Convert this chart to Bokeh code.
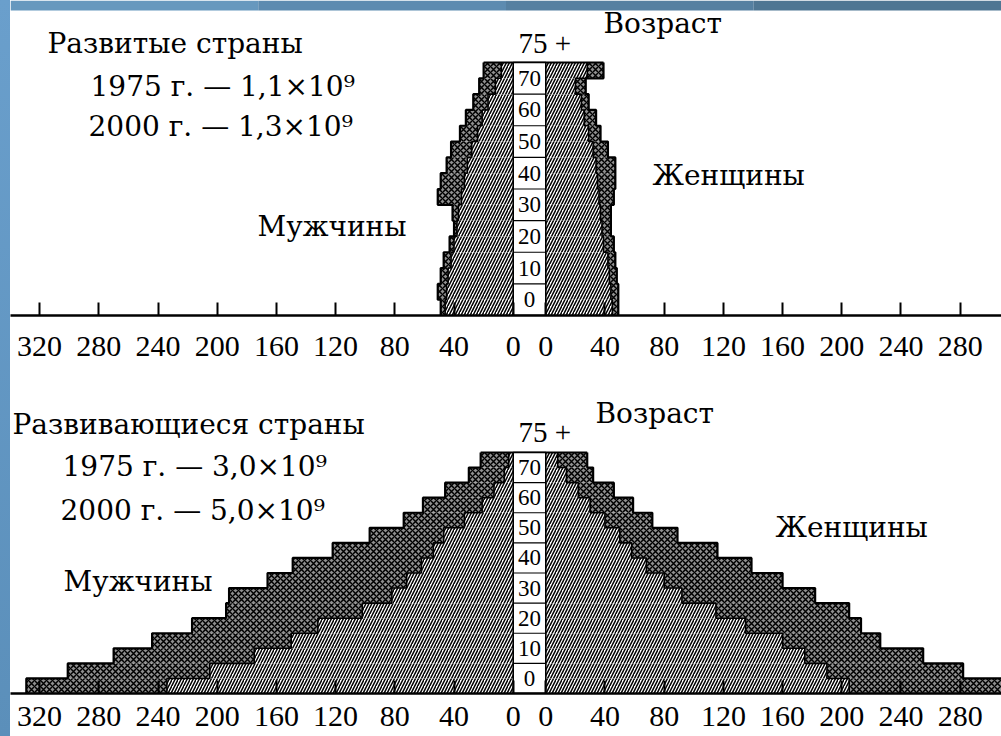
from bokeh.plotting import figure
from bokeh.layouts import column, row
from bokeh.models import Range1d, FixedTicker, CustomJSTickFormatter, Label, ColumnDataSource, BoxAnnotation, Div
from bokeh.embed import file_html
from bokeh.resources import INLINE
from bokeh.core.properties import value

# ---------------- data ----------------
age_start = [0, 5, 10, 15, 20, 25, 30, 35, 40, 45, 50, 55, 60, 65, 70, 75]
age_groups = ["0-4", "5-9", "10-14", "15-19", "20-24", "25-29", "30-34", "35-39",
              "40-44", "45-49", "50-54", "55-59", "60-64", "65-69", "70-74", "75+"]
decades = [0, 10, 20, 30, 40, 50, 60, 70]
left_ticks = [0, 40, 80, 120, 160, 200, 240, 280, 320]
right_ticks = [0, 40, 80, 120, 160, 200, 240, 280]

# developed countries (millions)
dev_men_1975 = [46, 45, 44, 42, 40, 38, 37, 35, 33, 31, 28, 24, 21, 17, 12, 8]
dev_men_2000 = [49, 51, 49, 47, 43, 40, 41, 51, 49, 45, 42, 36, 32, 27, 23, 20]
dev_women_1975 = [45, 44, 43, 42, 39, 38, 37, 36, 35, 34, 32, 29, 26, 24, 20, 28]
dev_women_2000 = [49, 49, 48, 47, 46, 44, 44, 46, 47, 47, 42, 37, 34, 29, 27, 39]

# developing countries (millions)
dvg_men_1975 = [234, 205, 175, 150, 132, 102, 82, 72, 62, 54, 47, 33, 21, 13, 6, 3]
dvg_men_2000 = [329, 301, 270, 244, 217, 194, 192, 166, 149, 122, 97, 74, 61, 46, 30, 22]
dvg_women_1975 = [205, 190, 175, 160, 135, 115, 92, 80, 68, 58, 50, 40, 30, 22, 14, 8]
dvg_women_2000 = [312, 282, 255, 226, 213, 205, 182, 160, 139, 116, 89, 72, 59, 46, 32, 28]

# ---------------- layout constants ----------------
G = 11            # half width of the central age column, in data units
PX = 1.48         # pixels per data unit (horizontal)
PAGE_W = 1001
LB = 10           # width of the blue band on the left
W = PAGE_W - LB
CX = 529          # page x of the centre
X_START = -(CX - LB) / PX
X_END = (PAGE_W - CX) / PX
SERIF = "DejaVu Serif"
NUM = "Liberation Serif"
STEP = 5
TOP_BAND_COLORS = ["#6798be", "#5d8bb0", "#5680a1", "#4f7693"]


def staircase(vals, sign):
    xs, ys = [], []
    for a, v in zip(age_start, vals):
        x = sign * (G + v)
        xs += [x, x]
        ys += [a, a + STEP]
    return xs, ys


def make(men75, men00, wom75, wom00, height, canvas_top, frame_bottom, standoff, texts, top_band):
    frame_h = frame_bottom - canvas_top
    ypx = (frame_bottom - texts["bar_top"]) / (age_start[-1] + STEP)
    y_end = frame_h / ypx

    p = figure(width=W, height=height, output_backend="svg", toolbar_location=None,
               x_range=Range1d(X_START, X_END), y_range=Range1d(0, y_end),
               y_axis_location=None, min_border_left=0, min_border_right=0,
               min_border_top=0, min_border_bottom=height - frame_h,
               outline_line_color=None, background_fill_color="white",
               border_fill_color="white")
    p.xgrid.visible = False
    p.ygrid.visible = False

    def tx(px):
        return (px - CX) / PX

    def ty(py):
        return (frame_bottom - py) / ypx

    yc = [a + STEP / 2 for a in age_start]
    src = ColumnDataSource(dict(
        y=yc,
        m_out=[-(G + v) for v in men00], m_in=[-(G + v) for v in men75], m0=[-G] * len(yc),
        w_out=[G + v for v in wom00], w_in=[G + v for v in wom75], w0=[G] * len(yc),
    ))
    cross = dict(fill_color="#8f8f8f", hatch_pattern="x", hatch_color="black",
                 hatch_scale=6, hatch_weight=1.5, line_color=None)
    diag = dict(fill_color="white", hatch_pattern="/", hatch_color="black",
                hatch_scale=6, hatch_weight=1.5, line_color=None)
    p.hbar(y="y", height=STEP, left="m_out", right="m_in", source=src, **cross)
    p.hbar(y="y", height=STEP, left="w_in", right="w_out", source=src, **cross)
    p.hbar(y="y", height=STEP, left="m_in", right="m0", source=src, **diag)
    p.hbar(y="y", height=STEP, left="w0", right="w_in", source=src, **diag)

    # outlines (staircases) of the 2000 and 1975 profiles
    top_age = age_start[-1] + STEP
    for vals, sign, lw in ((men00, -1, 2.2), (wom00, 1, 2.2), (men75, -1, 1.6), (wom75, 1, 1.6)):
        xs, ys = staircase(vals, sign)
        p.line(xs, ys, line_color="black", line_width=lw)
    p.line([-(G + men00[-1]), G + wom00[-1]], [top_age, top_age], line_color="black", line_width=2.2)

    # central age column
    p.quad(left=[-G], right=[G], bottom=[0], top=[top_age],
           fill_color="white", line_color="black", line_width=1.6)
    p.segment(x0=[-G] * (len(decades) - 1), x1=[G] * (len(decades) - 1),
              y0=decades[1:], y1=decades[1:], line_color="black", line_width=1.2)
    p.text(x=[0] * len(decades), y=[d + 5 for d in decades], text=[str(d) for d in decades],
           text_font=value(NUM), text_font_size="23px", text_align="center",
           text_baseline="middle", text_color="black")

    # axis
    ax = p.xaxis[0]
    ax.ticker = FixedTicker(ticks=[-(G + t) for t in left_ticks] + [G + t for t in right_ticks])
    ax.formatter = CustomJSTickFormatter(args=dict(g=G),
                                         code="return String(Math.round(Math.abs(Math.abs(tick) - g)));")
    ax.major_label_text_font = NUM
    ax.major_label_text_font_size = "30px"
    ax.major_label_text_color = "black"
    ax.major_label_standoff = standoff
    ax.major_tick_in = 13
    ax.major_tick_out = 0
    ax.minor_tick_in = 0
    ax.minor_tick_out = 0
    ax.major_tick_line_width = 2
    ax.major_tick_line_color = "black"
    ax.axis_line_width = 2.5
    ax.axis_line_color = "black"

    # blue slide background visible along the top edge
    if top_band:
        n = len(TOP_BAND_COLORS)
        for i, c in enumerate(TOP_BAND_COLORS):
            x0 = tx(LB + (PAGE_W - LB) * i / n)
            x1 = tx(LB + (PAGE_W - LB) * (i + 1) / n)
            p.add_layout(BoxAnnotation(left=x0, right=x1, bottom=ty(10), fill_color=c,
                                       fill_alpha=1.0, line_color=None, level="overlay"))

    for (txt, px, py, font, size) in texts["labels"]:
        p.add_layout(Label(x=tx(px), y=ty(py), text=txt, text_font=font,
                           text_font_size=size, text_color="black",
                           text_baseline="middle", text_align="left"))
    return p


top = make(dev_men_1975, dev_men_2000, dev_women_1975, dev_women_2000,
           height=368, canvas_top=0, frame_bottom=315, standoff=21, top_band=True,
           texts=dict(bar_top=62, labels=[
               ("Развитые страны", 47, 43, SERIF, "28px"),
               ("1975 г. — 1,1×10⁹", 90, 86, SERIF, "28px"),
               ("2000 г. — 1,3×10⁹", 88, 126, SERIF, "28px"),
               ("Мужчины", 257, 226, SERIF, "28px"),
               ("Женщины", 652, 175, SERIF, "28px"),
               ("Возраст", 603, 23, SERIF, "28px"),
               ("75 +", 518, 42, NUM, "29px"),
           ]))

bottom = make(dvg_men_1975, dvg_men_2000, dvg_women_1975, dvg_women_2000,
              height=368, canvas_top=368, frame_bottom=693, standoff=13, top_band=False,
              texts=dict(bar_top=452, labels=[
                  ("Развивающиеся страны", 12, 424, SERIF, "28px"),
                  ("1975 г. — 3,0×10⁹", 62, 466, SERIF, "28px"),
                  ("2000 г. — 5,0×10⁹", 60, 510, SERIF, "28px"),
                  ("Мужчины", 63, 581, SERIF, "28px"),
                  ("Женщины", 775, 527, SERIF, "28px"),
                  ("Возраст", 595, 413, SERIF, "28px"),
                  ("75 +", 518, 431, NUM, "29px"),
              ]))

band = Div(text="", width=LB, height=736, margin=0,
           styles={"background": "linear-gradient(#6a9fcc, #5b8fba)"})
layout = row(band, column(top, bottom, spacing=0), spacing=0)
open("out.html", "w").write(file_html(layout, INLINE))
